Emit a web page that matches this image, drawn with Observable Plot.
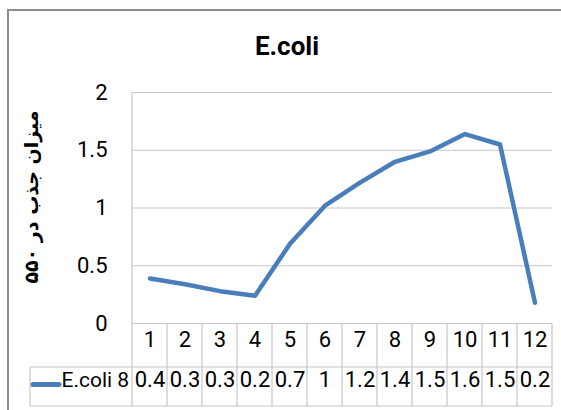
<!DOCTYPE html>
<html><head><meta charset="utf-8">
<script src="https://cdn.jsdelivr.net/npm/d3@7"></script>
<script src="https://cdn.jsdelivr.net/npm/@observablehq/plot@0.6"></script>
<style>
body{margin:0;background:#fff}
#chart{position:relative;width:561px;height:410px;overflow:hidden;background:#fff}
</style>
</head><body><div id="chart"></div>
<script>
const title = "E.coli";
const yLabel = "میزان جذب در ۵۵۰";
const seriesName = "E.coli 8";
const categories = ["1","2","3","4","5","6","7","8","9","10","11","12"];
const values = [0.39,0.34,0.28,0.24,0.69,1.02,1.22,1.40,1.49,1.64,1.55,0.18];
const tableLabels = ["0.4","0.3","0.3","0.2","0.7","1","1.2","1.4","1.5","1.6","1.5","0.2"];
const yTicks = [0,0.5,1,1.5,2];

const FONT = "Roboto,'Liberation Sans',sans-serif";
const BLUE = "#4a7ebb";
const GRID = "#c6c6c6";
const data = categories.map((c,i)=>({cat:c, v:values[i], label:tableLabels[i]}));

const plot = Plot.plot({
  width: 561, height: 410,
  marginLeft: 132, marginRight: 9, marginTop: 92, marginBottom: 87,
  style: {fontFamily: FONT, fontSize: "22px", color: "#000", background: "transparent", overflow: "visible"},
  x: {type: "band", domain: categories, padding: 0, axis: null},
  y: {domain: [0, 2], ticks: yTicks, tickSize: 0, tickPadding: 25, tickFormat: d => String(d), label: null},
  marks: [
    Plot.ruleY(yTicks, {stroke: GRID, strokeWidth: 1.2}),
    Plot.line(data, {x: "cat", y: "v", stroke: BLUE, strokeWidth: 4.5, strokeLinejoin: "round", strokeLinecap: "round"}),
    Plot.text(data, {x: "cat", text: "cat", frameAnchor: "bottom", dy: 23.5, fill: "#000"}),
    Plot.text(data, {x: "cat", text: "label", frameAnchor: "bottom", dy: 63.5, fill: "#000"}),
    Plot.text([seriesName], {text: d => d, frameAnchor: "bottom-left", textAnchor: "start", dx: -71, dy: 63.5, fill: "#000", fontSize: 21})
  ]
});
document.getElementById("chart").appendChild(plot);

// Decorations (table grid, frame, title, axis label) positioned with Plot's scales
const svg = d3.select(plot);
const xs = plot.scale("x"), ys = plot.scale("y");
const bw = xs.bandwidth;
const x0 = xs.apply(categories[0]);
const xEnd = xs.apply(categories[categories.length-1]) + bw;
const yTop = ys.apply(2), yZero = ys.apply(0);
const row1 = yZero + 44, row2 = yZero + 83;
const legendLeft = x0 - 102;
const g = svg.insert("g", ":first-child").attr("fill", "none");
// outer chart border
g.append("path").attr("d", `M8,410V10H561`).attr("stroke", "#8c8c8c").attr("stroke-width", 2);
// table verticals
categories.forEach(c => {
  const x = xs.apply(c);
  g.append("line").attr("x1", x).attr("x2", x).attr("y1", x === x0 ? yTop : yZero).attr("y2", row2).attr("stroke", GRID).attr("stroke-width", 1.2);
});
g.append("line").attr("x1", xEnd).attr("x2", xEnd).attr("y1", yZero).attr("y2", row2).attr("stroke", GRID).attr("stroke-width", 1.2);
g.append("line").attr("x1", legendLeft).attr("x2", legendLeft).attr("y1", row1).attr("y2", row2).attr("stroke", GRID).attr("stroke-width", 1.2);
[row1, row2].forEach(y => g.append("line").attr("x1", legendLeft).attr("x2", xEnd).attr("y1", y).attr("y2", y).attr("stroke", GRID).attr("stroke-width", 1.2));
// legend swatch
svg.append("line").attr("x1", legendLeft + 3).attr("x2", legendLeft + 29).attr("y1", (row1+row2)/2 - 2).attr("y2", (row1+row2)/2 - 2)
  .attr("stroke", BLUE).attr("stroke-width", 5).attr("stroke-linecap", "round");
// title
svg.append("text").attr("x", 287).attr("y", 55).attr("text-anchor", "middle")
  .attr("font-family", FONT).attr("font-weight", "bold").attr("font-size", 26).attr("fill", "#000").text(title);
// y label
svg.append("text").attr("transform", `translate(31,197) rotate(-90)`).attr("text-anchor", "middle").attr("dy", "0.35em")
  .attr("font-family", "'DejaVu Sans',sans-serif").attr("font-weight", "bold").attr("font-size", 19).attr("fill", "#000").text(yLabel);
</script></body></html>
